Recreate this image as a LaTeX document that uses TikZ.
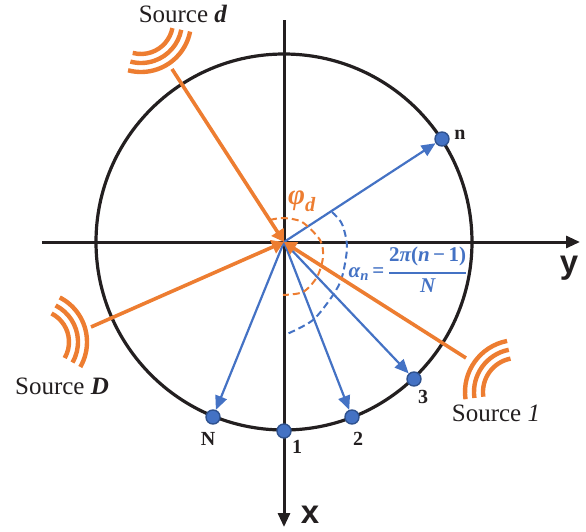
\documentclass[tikz,border=0pt]{standalone}
\usepackage{amsmath}
\usepackage{fontspec}
\setmainfont{Liberation Serif}
\newfontfamily\axisfont{Liberation Sans}
\usetikzlibrary{positioning, arrows.meta, calc}
\definecolor{ringblue}{HTML}{4472C4}
\definecolor{ringedge}{HTML}{2F528F}
\definecolor{srcorange}{HTML}{ED7D31}
\definecolor{inkblack}{HTML}{231F20}
\newcommand{\bisym}[1]{\text{\bfseries\itshape #1}}
\newcommand{\bosym}[1]{\text{\bfseries #1}}
\tikzset{
  axis/.style={-{Triangle[length=14pt,width=12pt]}, draw=inkblack, line width=3pt},
  ring/.style={draw=inkblack, line width=3.2pt},
  sensor/.style={circle, fill=ringblue, draw=ringedge, line width=1.4pt, minimum size=14pt, inner sep=0pt},
  sensorlabel/.style={font=\fontsize{20}{20}\selectfont\bfseries, text=inkblack, inner sep=0pt},
  steer/.style={-{Triangle[length=14pt,width=12pt]}, draw=ringblue, line width=2.2pt},
  ray/.style={-{Triangle[length=12pt,width=14pt]}, draw=srcorange, line width=3.6pt},
  wave/.style={draw=srcorange, line width=4.4pt},
  srclabel/.style={font=\fontsize{25}{25}\selectfont, text=inkblack, inner sep=0pt},
  axislabel/.style={font=\fontsize{33}{33}\selectfont\axisfont\bfseries, text=inkblack, inner sep=0pt},
  anglemark/.style={dashed, dash pattern=on 7pt off 4pt, line width=2pt},
}
\begin{document}
\begin{tikzpicture}[x=1pt, y=1pt]
  \useasboundingbox (-284,-289) rectangle (302,242);
  \coordinate (origin) at (0,0);

  % axes and array ring
  \draw[axis] (-242,0) -- (296,0);
  \draw[axis] (0,222) -- (0,-285);
  \draw[ring] (origin) circle (188);
  \node[axislabel] (ylabel) at (285,-26) {y};
  \node[axislabel] (xlabel) at (26,-273) {x};

  % sensors
  \node[sensor] (dotn) at (158,103) {};
  \node[sensor] (dot3) at (130,-137) {};
  \node[sensor] (dot2) at (68,-175) {};
  \node[sensor] (dot1) at (0,-189) {};
  \node[sensor] (dotN) at (-71,-175) {};
  \node[sensorlabel] (labn) at (176,107) {n};
  \node[sensorlabel] (lab3) at (139,-155) {3};
  \node[sensorlabel] (lab2) at (74,-197) {2};
  \node[sensorlabel] (lab1) at (13,-205) {1};
  \node[sensorlabel] (labN) at (-76,-197) {N};

  \foreach \s in {n,3,2,N}
    \draw[steer] (origin) -- (dot\s);

  % angle marks
  \draw[anglemark, draw=ringblue] plot[smooth] coordinates
    {(48,30) (58,18) (63,-5) (58,-35) (49,-53) (29,-78) (3,-92)};
  \draw[anglemark, draw=srcorange] plot[smooth] coordinates
    {(-14,22) (-1,24) (18,20) (36,2) (39,-15) (33,-35) (19,-50) (-1,-53)};
  \node[text=srcorange, inner sep=0pt, font=\fontsize{29}{29}\selectfont] (phid) at (18,41) {$\bisym{φ}_{\bisym{d}}$};
  \node[text=ringblue, inner sep=0pt, font=\fontsize{21}{21}\selectfont] (alphan) at (124,-28)
    {$\bisym{α}_{\bisym{n}}\,\bosym{=}\,\genfrac{}{}{1.8pt}{0}{\bosym{2}\bisym{π}\bosym{(}\bisym{n}\,\bosym{−}\,\bosym{1}\bosym{)}}{\bisym{N}}$};

  % sources
  \coordinate (srcd) at (-112,173);
  \coordinate (srcD) at (-193,-85);
  \coordinate (src1) at (182,-116);
  \coordinate (waved) at (-143,220);
  \coordinate (waveD) at (-247,-100);
  \coordinate (wave1) at (233,-150);
  \draw[ray] (srcd) -- (origin);
  \draw[ray] (srcD) -- (origin);
  \draw[ray] (src1) -- (origin);
  \foreach \rr in {32,41,50} {
    \draw[wave] ($(waved)+(-11:\rr)$) arc (-11:-105:\rr);
    \draw[wave] ($(waveD)+(63:\rr)$) arc (63:-30:\rr);
    \draw[wave] ($(wave1)+(101:\rr+2)$) arc (101:188:\rr+2);
  }
  \node[srclabel] (named) at (-101,228) {Source \textbf{\textit{d}}};
  \node[srclabel] (nameD) at (-222,-144) {Source \textbf{\textit{D}}};
  \node[srclabel] (name1) at (212,-171) {Source \textit{1}};
\end{tikzpicture}
\end{document}
